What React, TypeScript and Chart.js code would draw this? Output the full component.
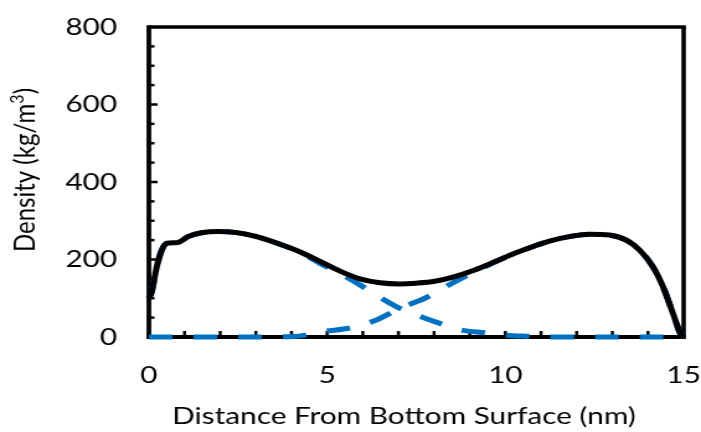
import { useEffect, useRef } from 'react';
import { Chart, registerables } from 'chart.js';

Chart.register(...registerables);

// Total density profile across the film (nm, kg/m^3)
const totalX = [0, 0.08, 0.22, 0.36, 0.5, 0.73, 0.87, 1.1, 1.48, 1.95, 2.41, 2.98, 3.44, 4.23, 4.8, 5.36, 5.92, 6.48, 7.04, 7.5, 8.02, 8.58, 9.14, 9.7, 10.26, 10.82, 11.29, 11.8, 12.36, 12.92, 13.39, 13.77, 14.14, 14.42, 14.7, 14.93, 15];
const totalDensity = [100, 117, 181, 224, 242, 243, 246, 259, 269, 272, 270, 260, 247, 220, 195, 170, 150, 140, 137, 139, 144, 156, 173, 194, 216, 235, 249, 259, 265, 263, 250, 224, 181, 130, 61, 5, 0];

// Contribution of the layer grown from the bottom surface
const bottomLayerX = [0, 0.08, 0.22, 0.36, 0.5, 0.73, 0.87, 1.1, 1.48, 1.95, 2.41, 2.98, 3.44, 4.23, 4.8, 5.26, 6.0, 6.38, 7.04, 7.5, 8.2, 8.77, 9.42, 9.98, 10.6, 11.2, 12, 13, 14, 15];
const bottomLayerDensity = [100, 117, 181, 224, 242, 243, 246, 259, 269, 272, 270, 260, 247, 219, 190, 169, 130, 108, 74, 57, 34, 18, 11, 5, 2, 0, 0, 0, 0, 0];

// Contribution of the layer grown from the top surface
const topLayerX = [0, 1, 2, 3, 4.04, 4.89, 5.73, 6.38, 7.04, 7.5, 7.74, 8.67, 9.79, 10.26, 10.82, 11.29, 11.8, 12.36, 12.92, 13.39, 13.77, 14.14, 14.42, 14.7, 14.93, 15];
const topLayerDensity = [0, 0, 0, 0, 1, 14, 25, 44, 74, 91, 100, 147, 197, 216, 235, 249, 259, 265, 263, 250, 224, 181, 130, 61, 5, 0];

const yTickValues = [0, 200, 400, 600, 800];
const xTickValues = [0, 5, 10, 15];
const xTitle = 'Distance From Bottom Surface (nm)';
// y title pieces: base text, superscript exponent, closing text
const yTitleParts = ['Density (kg/m', '3', ')'];

const CANVAS_W = 565;
const CANVAS_H = 432;
const SHOWN_W = 701;
const FONT = 'Lato, "Open Sans", sans-serif';

const toPoints = (xs: number[], ys: number[]) => xs.map((x, i) => ({ x, y: ys[i] }));

// Axes box, inward tick marks and axis titles
const framePlugin = {
  id: 'densityFrame',
  beforeDatasetsDraw(chart: any) {
    const { ctx, chartArea, scales } = chart;
    const { left, right, top, bottom } = chartArea;
    const x = scales.x;
    const y = scales.y;
    ctx.save();
    ctx.strokeStyle = '#000';
    ctx.lineCap = 'butt';
    ctx.lineWidth = 2.5;
    for (let v = 50; v < 800; v += 50) {
      const py = y.getPixelForValue(v);
      const len = v % 200 === 0 ? 7 : 4.5;
      ctx.beginPath();
      ctx.moveTo(left, py);
      ctx.lineTo(left + len, py);
      ctx.stroke();
    }
    for (let v = 1; v < 15; v += 1) {
      const px = x.getPixelForValue(v);
      ctx.beginPath();
      ctx.moveTo(px, bottom);
      ctx.lineTo(px, bottom - 6);
      ctx.stroke();
    }
    ctx.lineWidth = 3.5;
    ctx.beginPath();
    ctx.moveTo(left, top);
    ctx.lineTo(right + 1.8, top);
    ctx.stroke();
    ctx.lineWidth = 3.6;
    ctx.beginPath();
    ctx.moveTo(right, top);
    ctx.lineTo(right, bottom);
    ctx.stroke();
    ctx.lineWidth = 3.8;
    ctx.beginPath();
    ctx.moveTo(left, top - 1.75);
    ctx.lineTo(left, bottom + 2.1);
    ctx.stroke();
    ctx.lineWidth = 4.2;
    ctx.beginPath();
    ctx.moveTo(left - 1.9, bottom);
    ctx.lineTo(right + 1.8, bottom);
    ctx.stroke();
    ctx.restore();
  },
  afterDraw(chart: any) {
    const { ctx } = chart;
    ctx.save();
    ctx.fillStyle = '#000';
    ctx.font = `24px ${FONT}`;
    ctx.textAlign = 'center';
    ctx.textBaseline = 'middle';
    ctx.fillText(xTitle, 325.6, 416);

    // rotated y title with a raised exponent
    const [base, sup, tail] = yTitleParts;
    const mainFont = `24px ${FONT}`;
    const supFont = `16px ${FONT}`;
    ctx.font = mainFont;
    const wBase = ctx.measureText(base).width;
    const wTail = ctx.measureText(tail).width;
    ctx.font = supFont;
    const wSup = ctx.measureText(sup).width;
    const total = wBase + wSup + wTail;
    ctx.translate(19.5, 170);
    ctx.rotate(-Math.PI / 2);
    ctx.textAlign = 'left';
    ctx.textBaseline = 'alphabetic';
    let cx = -total / 2;
    const baseline = 8.5;
    ctx.font = mainFont;
    ctx.fillText(base, cx, baseline);
    cx += wBase;
    ctx.font = supFont;
    ctx.fillText(sup, cx, baseline - 9);
    cx += wSup;
    ctx.font = mainFont;
    ctx.fillText(tail, cx, baseline);
    ctx.restore();
  },
};

export default function App() {
  const canvasRef = useRef<HTMLCanvasElement | null>(null);

  useEffect(() => {
    if (!canvasRef.current) return;
    const chart = new Chart(canvasRef.current, {
      type: 'line',
      data: {
        datasets: [
          {
            label: 'Total',
            data: toPoints(totalX, totalDensity),
            borderColor: '#000000',
            borderWidth: 5,
            pointRadius: 0,
            cubicInterpolationMode: 'monotone',
            clip: false,
          },
          {
            label: 'Bottom layer',
            data: toPoints(bottomLayerX, bottomLayerDensity),
            borderColor: '#0070C0',
            borderWidth: 5,
            borderDash: [19, 17],
            borderCapStyle: 'butt',
            pointRadius: 0,
            cubicInterpolationMode: 'monotone',
            clip: false,
          },
          {
            label: 'Top layer',
            data: toPoints(topLayerX, topLayerDensity),
            borderColor: '#0070C0',
            borderWidth: 5,
            borderDash: [19, 17],
            borderCapStyle: 'butt',
            pointRadius: 0,
            cubicInterpolationMode: 'monotone',
            clip: false,
          },
        ],
      },
      options: {
        responsive: false,
        animation: false,
        devicePixelRatio: 1,
        layout: { padding: { top: 27, right: 14, left: 0, bottom: 0 } },
        plugins: {
          legend: { display: false },
          tooltip: { enabled: false },
        },
        scales: {
          x: {
            type: 'linear',
            min: 0,
            max: 15,
            grid: { display: false, drawTicks: false },
            border: { display: false },
            afterBuildTicks: (scale: any) => {
              scale.ticks = xTickValues.map((value) => ({ value }));
            },
            afterFit: (scale: any) => {
              scale.height = 95;
              scale.paddingLeft = 0;
              scale.paddingRight = 0;
            },
            ticks: {
              padding: 23.6,
              maxRotation: 0,
              autoSkip: false,
              color: '#000',
              font: { family: FONT, size: 24 },
            },
          },
          y: {
            type: 'linear',
            min: 0,
            max: 800,
            grid: { display: false, drawTicks: false },
            border: { display: false },
            afterBuildTicks: (scale: any) => {
              scale.ticks = yTickValues.map((value) => ({ value }));
            },
            afterFit: (scale: any) => {
              scale.width = 120;
              scale.paddingTop = 0;
              scale.paddingBottom = 0;
            },
            ticks: {
              padding: 25.6,
              color: '#000',
              font: { family: FONT, size: 24 },
            },
          },
        },
      },
      plugins: [framePlugin],
    });
    return () => chart.destroy();
  }, []);

  return (
    <div style={{ position: 'fixed', left: 0, top: 0, width: SHOWN_W, height: CANVAS_H, background: '#fff' }}>
      <canvas
        ref={canvasRef}
        width={CANVAS_W}
        height={CANVAS_H}
        style={{ width: `${SHOWN_W}px`, height: `${CANVAS_H}px`, display: 'block' }}
      />
    </div>
  );
}
